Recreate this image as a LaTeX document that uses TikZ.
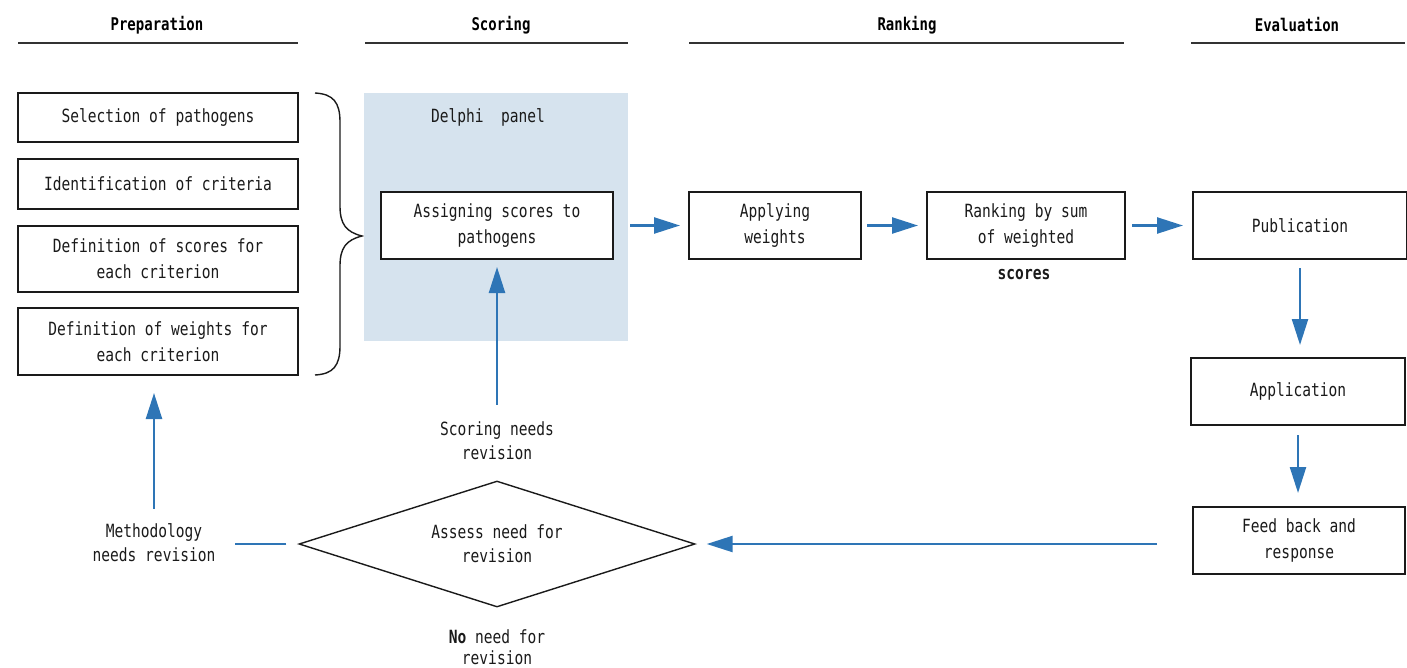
\documentclass[tikz,border=0pt]{standalone}
\usepackage{fontspec}
\setmainfont{DejaVu Sans Mono}[FakeStretch=0.8]
\usetikzlibrary{arrows.meta,shapes.geometric,calc}
\definecolor{flowblue}{HTML}{2E75B6}
\definecolor{panelblue}{HTML}{D6E3EE}
\definecolor{ink}{HTML}{1A1A1A}
\tikzset{
  txt/.style={font=\fontsize{18.2}{24}\selectfont, text=ink, align=center},
  boxtxt/.style={font=\fontsize{18.2}{26}\selectfont, text=ink, align=center},
  stepbox/.style={boxtxt, draw=ink, line width=1.4pt, fill=white, inner sep=0pt, outer sep=0pt},
  header/.style={font=\fontsize{17.5}{24}\selectfont\bfseries, text=black},
  rule/.style={draw=black!80, line width=1.8pt},
  flow/.style={draw=flowblue, line width=2.4pt, -{Triangle[length=26pt,width=16pt]}},
  plainflow/.style={draw=flowblue, line width=2.4pt},
  label/.style={txt, inner sep=0pt},
}
\begin{document}
\begin{tikzpicture}[x=1pt,y=-1pt]
\useasboundingbox (0,0) rectangle (1407,667);

% column headers
\node[header] (hprep) at (157,25) {Preparation};
\node[header] (hscor) at (501,25) {Scoring};
\node[header] (hrank) at (907,25) {Ranking};
\node[header] (heval) at (1297,25) {Evaluation};
\draw[rule] (18,43) -- (298,43);
\draw[rule] (365,43) -- (628,43);
\draw[rule] (689,43) -- (1124,43);
\draw[rule] (1191,43) -- (1405,43);

% preparation steps
\node[stepbox, minimum width=280pt, minimum height=49pt] (sel) at (158,117.5) {Selection of pathogens};
\node[stepbox, minimum width=280pt, minimum height=50pt] (ident) at (158,184) {Identification of criteria};
\node[stepbox, minimum width=280pt, minimum height=66pt] (defsc) at (158,259) {Definition of scores for\\each criterion};
\node[stepbox, minimum width=280pt, minimum height=67pt] (defwt) at (158,341.5) {Definition of weights for\\each criterion};

% curly brace grouping the preparation steps
\draw[line width=1.4pt, ink] (315,93) .. controls (333,94) and (340,102) .. (340,122)
  -- (340,206) .. controls (340,224) and (346,232) .. (362,236)
  .. controls (346,240) and (340,248) .. (340,266)
  -- (340,346) .. controls (340,366) and (333,374) .. (315,375);

% Delphi panel
\fill[panelblue] (364,93) rectangle (628,341);
\node[label] (delphi) at (488,117) {Delphi\ \ panel};
\node[stepbox, minimum width=232pt, minimum height=67pt] (assign) at (497,225.5) {Assigning scores to\\pathogens};

% ranking steps
\node[stepbox, minimum width=172pt, minimum height=67pt] (apply) at (775,225.5) {Applying\\weights};
\node[stepbox, minimum width=198pt, minimum height=67pt] (rank) at (1026,225.5) {Ranking by sum\\of weighted};
\node[txt, font=\fontsize{18.2}{24}\selectfont\bfseries, inner sep=0pt] (scores) at (1024,275) {scores};

% evaluation steps
\node[stepbox, minimum width=214pt, minimum height=67pt] (pub) at (1300,225.5) {Publication};
\node[stepbox, minimum width=214pt, minimum height=67pt] (appl) at (1298,391.5) {Application};
\node[stepbox, minimum width=212pt, minimum height=67pt] (feed) at (1299,540.5) {Feed back and\\response};

% decision
\node[txt, draw=ink, line width=1.4pt, shape=diamond, aspect=3.14, inner sep=0pt,
      minimum width=396pt, minimum height=126pt] (assess) at (497,544) {Assess need for\\revision};
\node[label] (scorrev) at (497,441) {Scoring needs\\revision};
\node[label, font=\fontsize{18.2}{21}\selectfont] (norev) at (497,647) {\textbf{No} need for\\revision};
\node[label] (methrev) at (154,543) {Methodology\\needs revision};

% flow connectors
\draw[flow, shorten <=17pt, shorten >=9pt] (assign.east) -- (apply.west);
\draw[flow, shorten <=6pt, shorten >=9pt] (apply.east) -- (rank.west);
\draw[flow, shorten <=7pt, shorten >=10pt] (rank.east) -- (pub.west);
\draw[flow, shorten <=9pt, shorten >=13pt] (pub.south) -- (pub.south |- appl.north);
\draw[flow, shorten <=10pt, shorten >=14pt] (appl.south) -- (appl.south |- feed.north);
\draw[flow, shorten <=36pt, shorten >=11pt] (feed.west |- assess.east) -- (assess.east);
\draw[flow, shorten <=17pt, shorten >=8pt] (scorrev.north) -- (assign.south);
\draw[plainflow, shorten <=12pt, shorten >=19pt] (assess.west) -- (methrev.east |- assess.west);
\draw[flow, shorten <=15pt, shorten >=18pt] (methrev.north) -- (methrev.north |- defwt.south);
\end{tikzpicture}
\end{document}
